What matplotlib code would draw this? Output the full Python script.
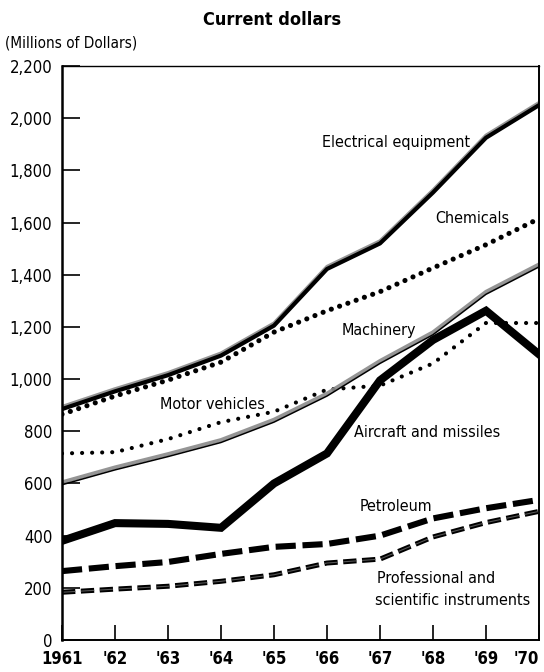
import numpy as np
import matplotlib
matplotlib.use('Agg')
from matplotlib import pyplot as plt
from matplotlib import patheffects as pe
from matplotlib.ticker import FuncFormatter

plt.rcParams['font.family'] = ['DejaVu Sans']
plt.rcParams['font.stretch'] = 'condensed'

years = [1961, 1962, 1963, 1964, 1965, 1966, 1967, 1968, 1969, 1970]
year_labels = ['1961', "'62", "'63", "'64", "'65", "'66", "'67", "'68", "'69", "'70"]

electrical = [885, 953, 1015, 1090, 1205, 1422, 1520, 1715, 1925, 2050]
chemicals = [865, 935, 996, 1065, 1180, 1262, 1335, 1426, 1515, 1615]
machinery = [595, 652, 703, 757, 835, 935, 1060, 1170, 1325, 1430]
motor_vehicles = [715, 720, 770, 835, 875, 960, 975, 1060, 1215, 1215]
aircraft = [380, 448, 445, 430, 600, 715, 995, 1150, 1262, 1095]
petroleum = [264, 283, 299, 330, 357, 368, 400, 466, 505, 537]
professional = [183, 195, 206, 225, 250, 295, 310, 395, 450, 493]


def main():
    fig = plt.figure(figsize=(5.44, 6.72), dpi=100)
    ax = fig.add_axes([62 / 544, 1 - 640 / 672, 477 / 544, 574 / 672])

    # professional and scientific instruments: dashes with faint core
    ax.plot(years, professional, color='#555555', lw=0.8,
            linestyle=(0, (12, 5)), dash_capstyle='butt',
            path_effects=[pe.Stroke(linewidth=3.6, foreground='black'), pe.Normal()])
    # petroleum: heavy dashes
    ax.plot(years, petroleum, color='black', lw=4.4,
            linestyle=(0, (3.3, 1.1)), dash_capstyle='butt')
    # motor vehicles: small dots
    ax.plot(years, motor_vehicles, color='black', lw=3.0,
            linestyle=(0, (0.01, 2.4)), dash_capstyle='round')
    # aircraft and missiles: heavy solid
    ax.plot(years, aircraft, color='black', lw=5.8, solid_joinstyle='miter')
    # machinery: thin line with gray band above
    ax.plot(years, machinery, color='black', lw=1.1,
            path_effects=[pe.SimpleLineShadow(offset=(0, 1.8), shadow_color='#8a8a8a',
                                              alpha=0.9, rho=1, linewidth=2.8),
                          pe.Normal()])
    # chemicals: big dots
    ax.plot(years, chemicals, color='black', lw=3.7,
            linestyle=(0, (0.01, 1.7)), dash_capstyle='round')
    # electrical equipment: heavy line with gray band above
    ax.plot(years, electrical, color='black', lw=3.0,
            path_effects=[pe.SimpleLineShadow(offset=(0, 1.8), shadow_color='#8a8a8a',
                                              alpha=0.9, rho=1, linewidth=2.4),
                          pe.Normal()])

    ax.set_xlim(1961, 1970)
    ax.set_ylim(0, 2200)
    ax.set_xticks(years)
    ax.set_xticklabels(year_labels)
    ax.set_yticks(np.arange(0, 2201, 200))
    ax.yaxis.set_major_formatter(FuncFormatter(lambda v, p: f'{v:,.0f}'))
    ax.tick_params(axis='y', direction='in', length=13, width=1.2, pad=7, labelsize=12)
    ax.tick_params(axis='x', direction='in', length=11, width=1.2, pad=7, labelsize=12)
    xlbls = ax.get_xticklabels()
    for lbl in xlbls:
        lbl.set_fontweight('bold')
    xlbls[-1].set_horizontalalignment('right')

    ax.spines['left'].set_linewidth(1.8)
    ax.spines['bottom'].set_linewidth(1.4)
    ax.spines['right'].set_linewidth(1.4)
    ax.spines['top'].set_linewidth(1.0)

    fs = 11.5
    ax.text(0.545, 0.866, 'Electrical equipment', transform=ax.transAxes, fontsize=fs, va='center')
    ax.text(0.782, 0.735, 'Chemicals', transform=ax.transAxes, fontsize=fs, va='center')
    ax.text(0.587, 0.540, 'Machinery', transform=ax.transAxes, fontsize=fs, va='center')
    ax.text(0.205, 0.411, 'Motor vehicles', transform=ax.transAxes, fontsize=fs, va='center')
    ax.text(0.612, 0.362, 'Aircraft and missiles', transform=ax.transAxes, fontsize=fs, va='center')
    ax.text(0.623, 0.232, 'Petroleum', transform=ax.transAxes, fontsize=fs, va='center')
    ax.text(0.660, 0.108, 'Professional and', transform=ax.transAxes, fontsize=fs, va='center')
    ax.text(0.656, 0.068, 'scientific instruments', transform=ax.transAxes, fontsize=fs, va='center')

    fig.text(0.5, 1 - 20 / 672, 'Current dollars', ha='center', va='center',
             fontsize=13, fontweight='bold')
    fig.text(5 / 544, 1 - 43 / 672, '(Millions of Dollars)', ha='left', va='center', fontsize=11)

    fig.savefig('out.png', dpi=100)


if __name__ == "__main__":
    main()
